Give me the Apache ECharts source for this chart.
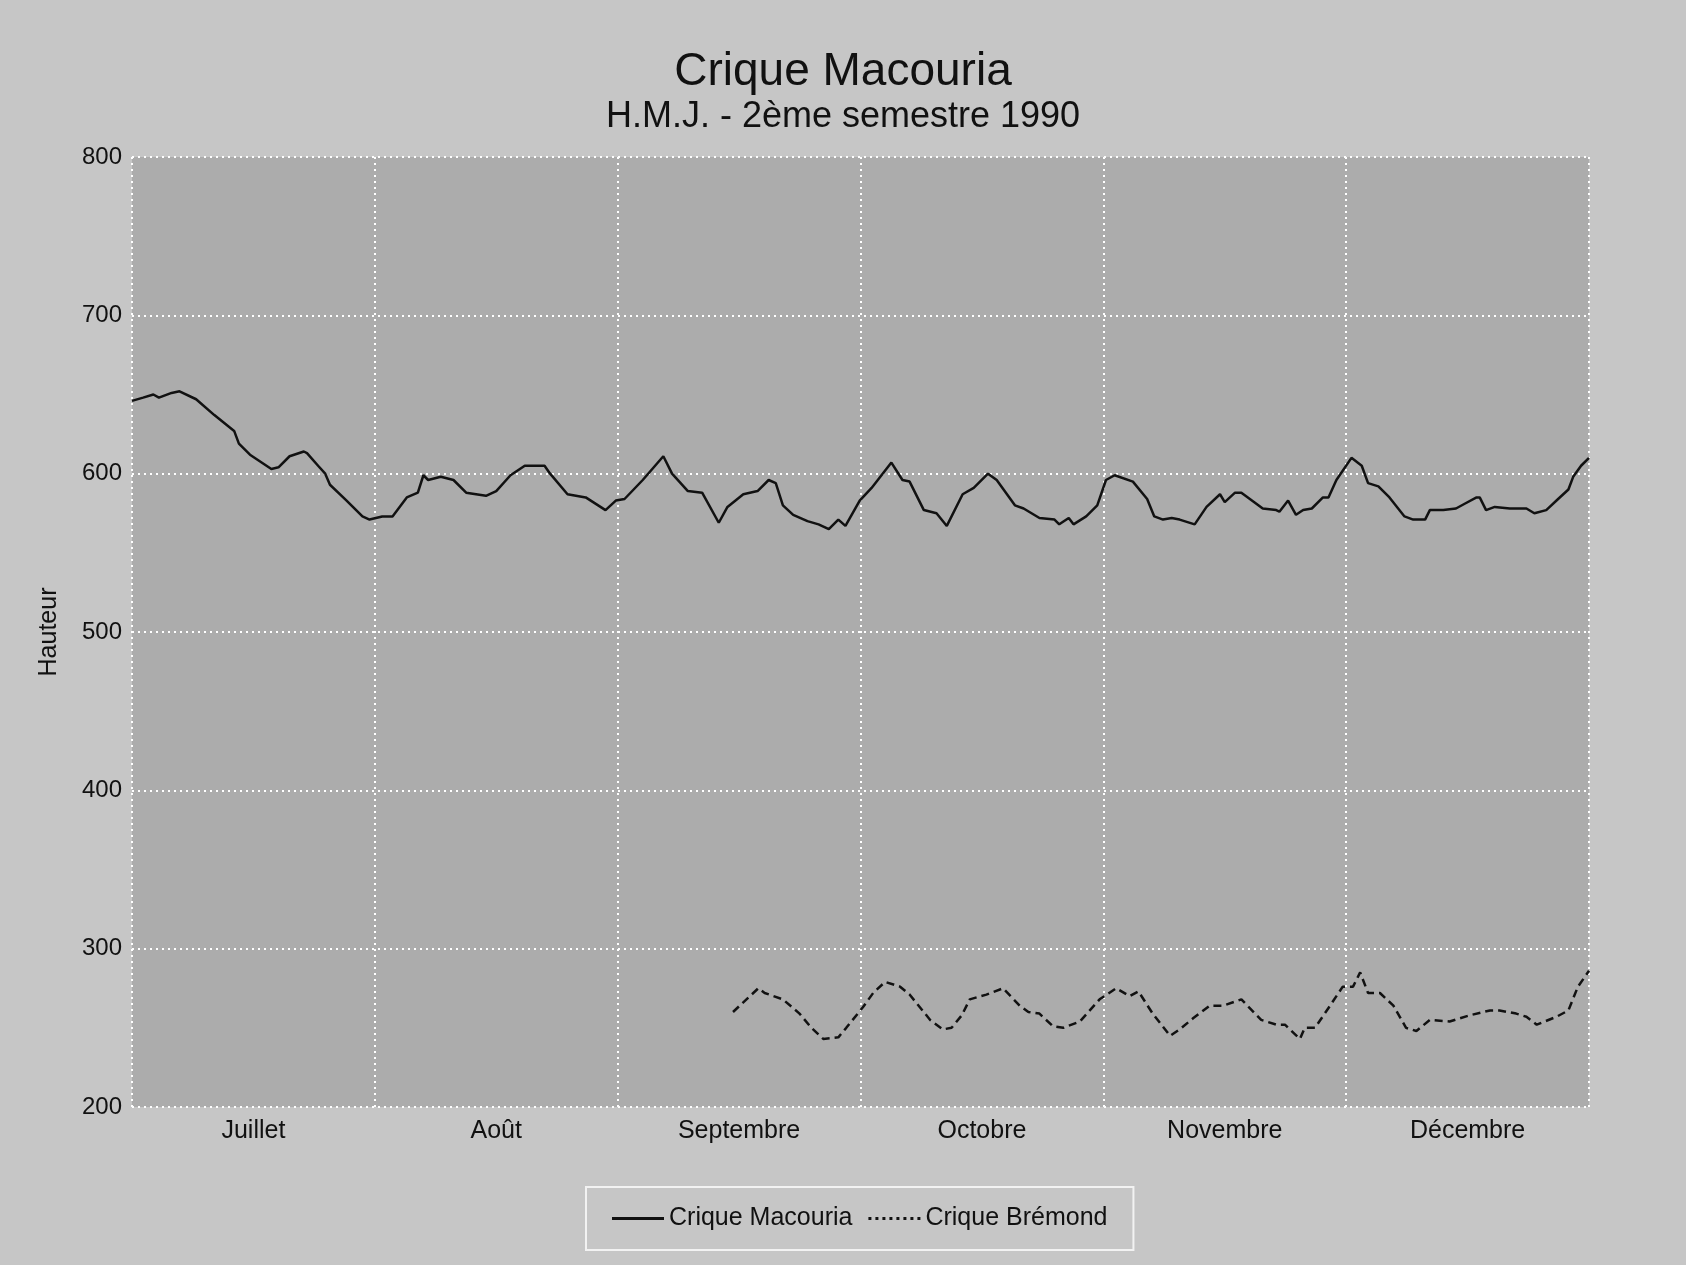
<!DOCTYPE html>
<html>
<head>
<meta charset="utf-8">
<script src="https://cdn.jsdelivr.net/npm/echarts@6/dist/echarts.min.js"></script>
<style>
  html, body { margin: 0; padding: 0; background: #c6c6c6; }
  #chart { width: 1686px; height: 1265px; }
</style>
</head>
<body>
<div id="chart"></div>
<script>
// Month categories (x axis labels)
const months = ['Juillet', 'Août', 'Septembre', 'Octobre', 'Novembre', 'Décembre'];
// Y axis ticks
const yTicks = [200, 300, 400, 500, 600, 700, 800];

// Crique Macouria: day of the semester (0 = 1 July) and height
const macouriaDays = [0,1.4,2.7,3.4,5.0,6.0,8.1,10.4,12.9,13.5,14.9,17.6,18.5,19.9,21.7,22.1,23.5,24.4,25.0,27.1,29.1,30.0,31.6,32.9,34.7,36.1,36.8,37.4,39.0,40.6,42.2,44.7,46.0,47.8,49.6,52.1,52.8,55.0,57.3,59.8,61.1,62.2,64.5,
  67.1,68.2,70.2,72.0,74.1,75.2,77.2,79.0,80.4,81.3,82.2,83.5,85.3,86.7,88.0,89.2,90.1,91.9,93.4,95.9,97.3,98.2,100.0,101.6,102.9,104.9,106.3,108.1,109.2,111.5,112.6,114.6,116.5,117.1,118.3,118.9,120.5,121.9,123.0,124.1,126.4,128.2,129.1,130.2,131.3,
  132.3,134.2,135.7,137.4,138,139.3,140.1,142.8,144.5,144.9,146,147,147.9,149,150.4,151.1,152.1,154,155.3,156.1,157.4,158.8,160.7,161.8,163.3,163.9,165.6,167.2,168.3,169.8,170.2,171,172.1,174,176.1,177.1,178.6,180.1,181.4,182,183,184];
const macouriaValues = [646,648,650,648,651,652,647,637,627,619,612,603,604,611,614,613,605,600,593,583,573,571,573,573,585,588,599,596,598,596,588,586,589,599,605,605,600,587,585,577,583,584,596,
  611,600,589,588,569,579,587,589,596,594,580,574,570,568,565,571,567,583,591,607,596,595,577,575,567,587,591,600,596,580,578,572,571,568,572,568,573,580,596,599,595,584,573,571,572,
  571,568,579,587,582,588,588,578,577,576,583,574,577,578,585,585,596,610,605,594,592,585,573,571,571,577,577,578,581,585,585,577,579,578,578,575,577,584,590,598,605,610];

// Crique Brémond
const bremondDays = [75.9,79.1,79.9,82.2,84.3,85.8,87.3,89.2,90.2,92.3,93.6,95.1,97,98.2,100.8,102.4,103.5,104.8,105.8,107.9,110,112.1,113.2,114.6,116.3,117.6,119.7,122.2,124.3,126,127.1,128.9,131.1,
  132.3,134,136.1,137.8,140.1,142.6,144.5,145.6,147.5,148.1,149.4,151.3,152.9,154.2,155.1,156.1,157.6,159.3,160.9,162.2,163.9,166.4,169,171.5,172.7,174.8,176.1,177.4,179.9,181.4,182.6,184];
const bremondValues = [260,275,272,268,259,250,243,244,250,263,272,279,276,271,255,249,250,258,268,271,275,264,260,259,251,250,254,268,275,270,273,259,245,
  249,256,264,264,268,255,252,252,243,250,250,264,276,276,285,272,272,264,250,248,255,254,258,261,261,259,257,252,257,261,276,286];

const FONT = "'Liberation Sans', Arial, Helvetica, sans-serif";
const chart = echarts.init(document.getElementById('chart'), null, { renderer: 'canvas' });

const gridLine = { show: true, lineStyle: { color: '#ffffff', type: [2, 4], width: 2 } };
const dottedIcon = 'path://M0,0h3v3h-3zM7,0h3v3h-3zM14,0h3v3h-3zM21,0h3v3h-3zM28,0h3v3h-3zM35,0h3v3h-3zM42,0h3v3h-3zM49,0h3v3h-3z';

chart.setOption({
  backgroundColor: '#c6c6c6',
  animation: false,
  title: [
    { text: 'Crique Macouria', left: 'center', top: 44,
      textStyle: { fontFamily: FONT, fontSize: 46, fontWeight: 'normal', color: '#111' } },
    { text: 'H.M.J. - 2ème semestre 1990', left: 'center', top: 94,
      textStyle: { fontFamily: FONT, fontSize: 36, fontWeight: 'normal', color: '#111' } }
  ],
  grid: {
    left: 132, right: 97, top: 157, bottom: 158,
    show: true, backgroundColor: '#acacac', borderWidth: 0
  },
  legend: {
    left: 586, top: 1187,
    padding: [19, 26], itemGap: 16, itemWidth: 52, itemHeight: 3,
    borderColor: '#f2f2f2', borderWidth: 2, backgroundColor: 'transparent',
    textStyle: { fontFamily: FONT, fontSize: 25, color: '#111' },
    data: [
      { name: 'Crique Macouria', icon: 'rect' },
      { name: 'Crique Brémond', icon: dottedIcon }
    ]
  },
  xAxis: [
    { type: 'value', min: 0, max: 184, show: false, gridIndex: 0 },
    { type: 'category', data: months, boundaryGap: true, position: 'bottom', gridIndex: 0,
      axisLine: { show: false }, axisTick: { show: false },
      axisLabel: { interval: 0, margin: 12, fontFamily: FONT, fontSize: 25, color: '#111' },
      splitLine: gridLine }
  ],
  yAxis: {
    type: 'value', min: yTicks[0], max: yTicks[yTicks.length - 1], interval: 100,
    name: 'Hauteur', nameLocation: 'middle', nameRotate: 90, nameGap: 70,
    nameTextStyle: { fontFamily: FONT, fontSize: 25, color: '#111' },
    axisLine: { show: false }, axisTick: { show: false },
    axisLabel: { margin: 10, fontFamily: FONT, fontSize: 24, color: '#111' },
    splitLine: gridLine
  },
  series: [
    { name: 'Crique Macouria', type: 'line', xAxisIndex: 0, showSymbol: false, symbol: 'none',
      data: macouriaDays.map((d, i) => [d, macouriaValues[i]]),
      lineStyle: { color: '#111', width: 2.5, type: 'solid' }, itemStyle: { color: '#111' } },
    { name: 'Crique Brémond', type: 'line', xAxisIndex: 0, showSymbol: false, symbol: 'none',
      data: bremondDays.map((d, i) => [d, bremondValues[i]]),
      lineStyle: { color: '#111', width: 2.5, type: [8, 5] }, itemStyle: { color: '#111' } }
  ]
});
</script>
</body>
</html>
